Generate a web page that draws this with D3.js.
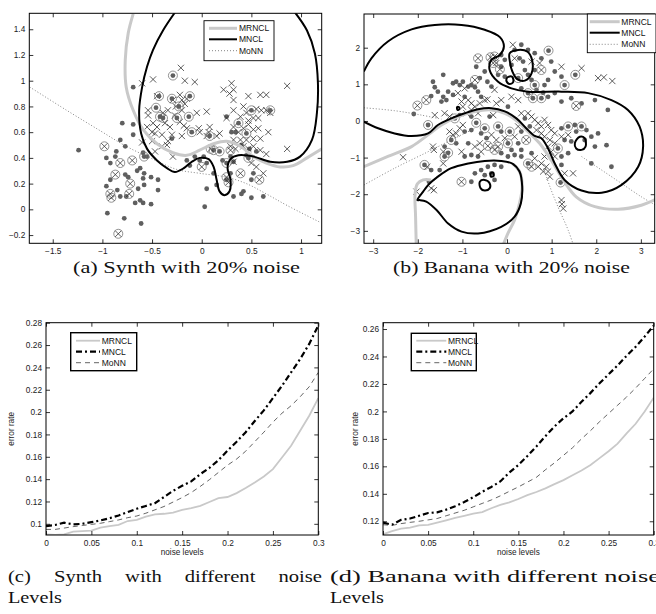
<!DOCTYPE html>
<html>
<head>
<meta charset="utf-8">
<script src="https://cdn.jsdelivr.net/npm/d3@7"></script>
<style>
  body { margin: 0; background: #fff; }
  svg { display: block; }
</style>
</head>
<body>
<div id="fig"></div>
<script>
// ---- (a) Synth with 20% noise: points [x, y]
const synthDots = [
  [-1.24,0.46],[-0.82,0.54],[-0.80,0.67],[-0.69,0.66],[-0.69,0.58],[-0.86,0.45],[-0.87,0.41],[-0.77,0.49],
  [-0.92,0.36],[-0.96,0.40],[-0.59,0.44],[-0.55,0.41],[-0.92,0.23],[-0.96,0.18],[-0.77,0.27],[-0.74,0.25],
  [-0.65,0.30],[-0.62,0.32],[-0.58,0.28],[-0.59,0.24],[-0.51,0.25],[-0.58,0.19],[-0.64,0.16],[-0.85,0.15],
  [-0.82,0.10],[-0.76,0.10],[-0.67,0.05],[-0.62,0.07],[-0.59,0.05],[-0.51,0.04],[-0.44,0.15],[-0.44,0.23],
  [-0.95,-0.03],[-0.78,-0.07],[-0.61,-0.11],[0.03,0.02],[-0.69,0.95],
  [0.02,0.41],[-0.02,0.38],[0.05,0.36],[0.12,0.28],[0.05,0.16],[0.15,0.19],[0.21,0.38],[0.29,0.41],
  [0.32,0.10],[0.40,0.12],[0.42,0.14],[0.50,0.09],[0.62,0.10],[0.50,0.23],[0.52,0.28],[0.25,0.23],
  [0.29,0.28],[0.32,0.37],[-0.12,0.34],[-0.07,0.41],[-0.15,0.38],[0.25,0.72],[0.30,0.60],[0.34,0.60],
  [-0.30,0.55],[0.45,0.42],[0.40,0.50],[0.48,0.47],[0.55,0.45]
];
const synthCrosses = [
  [-0.60,0.98],[-0.49,1.01],[-0.21,1.10],[-0.17,1.00],[-0.07,0.99],[-0.45,0.88],[-0.22,0.89],[-0.20,0.85],
  [-0.15,0.86],[-0.29,0.85],[-0.54,0.77],[-0.39,0.75],[-0.34,0.77],[-0.26,0.80],[-0.17,0.82],[-0.20,0.77],
  [-0.54,0.73],[-0.27,0.73],[-0.05,0.75],[0.05,0.76],[-0.55,0.64],[-0.49,0.67],[-0.45,0.64],[-0.37,0.67],
  [-0.32,0.64],[-0.22,0.68],[-0.18,0.65],[-0.15,0.63],[-0.03,0.63],[-0.50,0.60],[-0.47,0.59],[-0.40,0.58],
  [-0.30,0.58],[-0.20,0.57],[-0.02,0.60],[0.08,0.64],[0.07,0.60],[0.05,0.57],[-0.50,0.53],[-0.35,0.50],
  [-0.34,0.53],[-0.47,0.45],[-0.40,0.49],[-0.29,0.41],[-0.60,0.52],
  [0.22,0.93],[0.30,0.98],[0.32,0.93],[0.32,0.85],[0.28,0.90],[0.32,0.77],[0.42,0.80],[0.47,0.88],
  [0.59,0.89],[0.65,0.89],[0.86,0.96],[0.45,0.75],[0.55,0.78],[0.60,0.77],[0.65,0.77],[0.69,0.75],
  [0.39,0.72],[0.47,0.69],[0.52,0.71],[0.57,0.71],[0.25,0.71],[0.32,0.64],[0.37,0.60],[0.42,0.63],
  [0.47,0.66],[0.52,0.62],[0.57,0.63],[0.67,0.60],[0.32,0.54],[0.39,0.54],[0.45,0.54],[0.52,0.55],
  [0.59,0.55],[0.42,0.49],[0.47,0.47],[0.52,0.49],[0.59,0.46],[0.65,0.43],[0.86,0.47],[0.29,0.49],
  [0.34,0.47],[0.15,0.57],[0.18,0.59],[0.50,0.36],[0.62,0.28],[0.55,0.33],[0.32,0.37]
];
const synthRingDots = [
  [-0.29,1.04],[-0.43,0.88],[-0.12,0.88],[-0.30,0.86],[-0.23,0.80],[-0.46,0.79],[-0.42,0.72],[-0.39,0.71],
  [-0.25,0.71],[-0.13,0.72],[-0.10,0.60],[0.08,0.57],[0.50,0.77],[0.69,0.77],[0.37,0.67],[0.45,0.59],
  [0.12,0.46],[-0.58,0.41],[0.18,0.45],[0.25,0.36],[0.47,0.40]
];
const synthRingCrosses = [
  [-0.98,0.49],[-0.70,0.38],[-0.82,0.36],[-0.87,0.27],[-0.72,0.20],[-0.92,0.12],[-0.91,0.09],[-0.73,0.12],
  [-0.84,-0.19],[0.39,0.28],[0.58,0.23],[0.25,0.25],[0.27,0.21],[0.29,0.46],[0.00,0.33],[0.09,0.47]
];
// decision boundaries (a)
const synthMRNCL = [
  [-0.69,1.52],[-0.74,1.37],[-0.77,1.16],[-0.76,0.95],[-0.69,0.77],[-0.59,0.62],[-0.45,0.51],[-0.29,0.44],
  [-0.15,0.42],[-0.02,0.46],[0.12,0.51],[0.25,0.53],[0.39,0.49],[0.52,0.41],[0.65,0.36],[0.79,0.33],
  [0.92,0.34],[1.06,0.40],[1.21,0.47]
];
const synthMNCL = [
  [-0.27,1.53],[-0.39,1.39],[-0.49,1.24],[-0.55,1.11],[-0.60,0.95],[-0.63,0.77],[-0.61,0.59],[-0.55,0.47],
  [-0.45,0.38],[-0.35,0.32],[-0.27,0.29],[-0.18,0.32],[-0.10,0.37],[-0.02,0.40],[0.07,0.39],[0.12,0.33],
  [0.15,0.23],[0.18,0.14],[0.23,0.11],[0.28,0.14],[0.29,0.23],[0.26,0.32],[0.29,0.39],[0.37,0.42],
  [0.52,0.41],[0.69,0.37],[0.86,0.37],[0.99,0.41],[1.11,0.54],[1.16,0.75],[1.17,0.98],[1.14,1.21],
  [1.06,1.39],[0.94,1.53]
];
const synthMoNN = [
  [-1.73,0.95],[-1.36,0.77],[-1.02,0.61],[-0.76,0.49],[-0.49,0.39],[-0.25,0.31],[-0.02,0.28],[0.25,0.25],
  [0.45,0.20],[0.65,0.12],[0.86,0.03],[1.19,-0.10]
];

// ---- (b) Banana with 20% noise
const bananaDots = [
  [0.32,2.08],[0.47,1.94],[0.62,1.85],[0.77,1.71],[0.99,1.62],[1.07,1.35],[1.22,1.21],[0.92,1.12],[0.84,0.98],
  [0.36,1.62],[0.28,1.71],[0.40,1.39],[0.10,1.53],[-0.05,1.67],[-0.13,1.80],[-0.05,1.21],[-0.20,1.26],
  [-0.13,1.48],[-0.69,1.48],[-0.61,1.17],[-0.50,1.35],[-0.44,1.07],[-0.35,0.94],[-0.58,0.66],[-0.65,0.80],
  [0.47,1.26],[0.55,1.12],[0.66,0.85],[0.81,0.77],[0.32,0.89],[0.92,0.66],[1.07,0.76],[1.22,0.53],[1.44,0.62],
  [1.67,0.48],[1.97,0.57],[2.26,0.30],[0.02,0.39],[0.62,1.39],[0.17,1.94],
  [-1.66,1.07],[-1.62,0.92],[-1.43,1.26],[-1.55,0.80],[-1.43,0.66],[-1.36,0.57],[-1.47,0.53],[-1.70,0.68],
  [-2.09,0.19],[-1.21,1.03],[-1.14,1.07],[-1.06,0.98],[-0.99,1.07],[-0.87,0.94],[-0.80,0.98],[-0.72,0.92],
  [-1.32,0.80],[-1.21,0.71],[-0.95,0.66],[-1.06,0.16],[-0.80,0.12],[-0.95,-0.29],[-1.14,-0.61],[-1.40,-0.70],
  [-0.80,-0.25],[-0.58,-0.34],[-0.39,0.12],[-0.13,-0.29],[-0.46,-0.47],[0.32,-0.29],[-0.87,-0.61],
  [-0.95,-0.97],[-0.80,-0.93],[-0.65,-0.97],
  [-1.70,-1.34],[-1.51,-1.34],[-1.75,-1.66],[-0.80,-1.66],[-0.72,-1.43],[-0.58,-1.34],[-0.43,-1.25],
  [-0.28,-1.20],[-0.13,-1.25],[-0.35,-1.43],[-0.28,-1.61],[-0.50,-1.48],
  [0.40,0.07],[0.51,-0.15],[1.29,-0.52],[1.22,-0.20],[1.52,-0.11],[1.55,-0.29],[1.78,-0.25],[1.44,-0.56],
  [1.74,-0.52],[1.89,-0.43],[2.04,-0.34],[1.97,-0.70],[2.23,-0.66],[1.89,-1.16],[2.34,-1.25],[0.55,-0.88],
  [0.32,-0.97],[0.17,-0.93],[0.02,-0.97],[0.10,-0.79],[-0.13,-0.88],[0.25,-0.61],[0.32,-0.79],[1.22,-0.97],
  [1.37,-0.88],[1.22,-1.20]
];
const bananaCrosses = [
  [0.13,2.08],[0.73,1.58],[1.22,1.48],[1.67,1.44],[-0.24,1.58],[-0.28,0.85],[-0.44,0.59],[2.04,1.17],
  [2.17,1.19],[2.36,1.09],[0.10,0.66],[0.25,0.57],[-0.13,0.57],[-0.24,0.48],[0.17,1.71],[0.55,1.62],
  [-0.95,0.89],[-1.10,0.76],[-0.87,0.57],[-0.80,0.48],[-1.02,0.53],[-0.99,0.39],[-0.72,0.39],[-0.61,0.48],
  [-0.50,0.57],[-1.40,0.21],[-1.29,0.12],[-0.91,0.21],[-0.80,0.30],[-0.65,0.21],[-1.62,0.16],[-1.29,-0.29],
  [-1.21,-0.38],[-1.14,-0.34],[-1.06,-0.20],[-0.99,-0.11],[-0.31,0.16],[-0.35,-0.38],[-0.24,-0.52],
  [0.17,-0.43],[0.25,-0.15],[-0.72,-0.70],[-0.61,-0.61],[-0.58,-0.84],[-1.02,-0.84],[-1.66,-0.70],
  [-1.64,-0.79],[-2.33,-0.99],[-1.43,-0.84],[-1.43,-1.16],[-0.05,-0.47],
  [-1.79,-1.25],[-1.70,-1.84],[-1.64,-1.89],[-2.03,-1.93],
  [0.47,0.21],[0.55,0.12],[0.62,0.03],[0.70,-0.06],[0.77,-0.15],[0.66,-0.25],[0.84,0.03],[0.92,-0.11],
  [0.99,-0.25],[1.07,-0.34],[0.77,-0.34],[0.84,-0.43],[0.96,-0.52],[1.07,-0.61],[1.22,-0.43],[1.37,-0.38],
  [0.92,-0.70],[0.99,-0.84],[1.07,-0.97],[0.84,-0.97],[0.77,-1.16],[0.88,-1.25],[0.92,-1.38],[0.96,-1.52],
  [0.81,-1.38],[0.70,-1.25],[0.62,-1.02],[1.29,-1.43],[1.48,-1.43],[1.22,-2.16],[1.23,-2.27],[1.26,-2.39],
  [0.32,0.21]
];
const bananaRingDots = [
  [0.93,1.92],[1.53,1.26],[1.29,0.98],[0.62,0.98],[0.47,0.76],[0.58,0.62],[0.77,0.62],[0.25,1.17],
  [-1.17,0.07],[-1.77,-0.11],[-1.25,-0.52],[-1.32,-0.87],[-0.69,-0.05],[-0.50,-0.20],[-0.20,-0.15],
  [0.06,-0.29],[-1.40,-0.97],[0.02,-0.61],[-1.85,-1.20],
  [1.14,-0.75],[1.37,-0.15],[1.67,-0.15],[0.47,-1.16],[1.20,-1.68]
];
const bananaRingCrosses = [
  [0.77,1.39],[-0.28,1.76],[-0.31,1.58],[-0.37,1.74],[-0.16,1.41],[-0.65,1.71],[-0.72,1.12],[1.55,0.41],
  [-1.81,0.57],[-2.01,0.42],[-0.20,-0.70],[-0.43,-0.68],[-0.28,-0.79],[-1.02,-1.66],[0.55,-1.25],[0.43,-0.52]
];
// decision boundaries (b): open curves and closed loops
const bananaMNCL = [
  [-3.21,-0.02],[-2.89,-0.20],[-2.52,-0.34],[-2.14,-0.41],[-1.77,-0.34],[-1.55,-0.11],[-1.25,0.07],
  [-0.95,0.21],[-0.65,0.32],[-0.35,0.35],[-0.05,0.26],[0.21,0.07],[0.43,-0.20],[0.62,-0.41],[0.77,-0.47],
  [0.92,-0.75],[1.07,-1.16],[1.29,-1.61],[1.67,-1.90],[2.12,-1.96],[2.56,-1.75],[2.94,-1.25],[3.05,-0.70],
  [2.97,-0.15],[2.71,0.30],[2.34,0.57],[1.82,0.76],[1.22,0.80],[0.47,0.80],[0.10,0.89],[-0.20,1.07],
  [-0.39,1.39],[-0.35,1.67],[-0.16,1.80],[-0.07,2.03],[-0.16,2.29],[-0.50,2.49],[-1.02,2.62],[-1.62,2.62],
  [-2.14,2.50],[-2.67,2.17],[-3.04,1.71],[-3.21,1.35]
];
const bananaLowerLobe = [
  [-2.01,-2.16],[-1.88,-1.93],[-1.77,-1.75],[-1.55,-1.52],[-1.25,-1.29],[-0.87,-1.16],[-0.50,-1.09],
  [-0.13,-1.09],[0.13,-1.17],[0.28,-1.38],[0.34,-1.79],[0.31,-2.25],[0.17,-2.61],[-0.13,-2.89],[-0.65,-3.07],
  [-1.02,-3.02],[-1.32,-2.80],[-1.58,-2.43],[-1.81,-2.20],[-1.96,-2.16]
];
const bananaLoops = [
  [[0.06,1.85],[0.25,1.94],[0.46,1.89],[0.56,1.67],[0.55,1.30],[0.40,1.10],[0.23,1.14],[0.12,1.35],[0.07,1.58]],
  [[0.01,1.19],[0.11,1.21],[0.14,1.07],[0.06,1.01],[-0.01,1.08]],
  [[-0.61,-1.66],[-0.50,-1.61],[-0.39,-1.70],[-0.39,-1.84],[-0.50,-1.90],[-0.59,-1.84]],
  [[-0.37,-1.43],[-0.31,-1.41],[-0.30,-1.50],[-0.36,-1.52]],
  [[1.52,-0.61],[1.63,-0.43],[1.74,-0.47],[1.76,-0.70],[1.67,-0.79],[1.55,-0.75]],
  [[-1.12,0.38],[-1.08,0.38],[-1.07,0.32],[-1.11,0.30]]
];
const bananaMRNCL = [
  [[-3.21,-1.25],[-2.67,-0.97],[-2.14,-0.70],[-1.77,-0.38],[-1.47,-0.11],[-1.10,0.12],[-0.72,0.26],
   [-0.35,0.30],[-0.05,0.21],[0.21,0.01],[0.47,-0.29],[0.73,-0.61],[0.99,-1.07],[1.26,-1.61],[1.55,-2.07],
   [1.97,-2.34],[2.49,-2.41],[3.01,-2.30],[3.33,-2.14]],
  [[-2.03,-3.62],[-2.05,-2.61],[-2.06,-1.98],[-2.01,-1.72],[-1.88,-1.61],[-1.70,-1.61]],
  [[-0.16,-3.62],[0.02,-3.07],[0.17,-2.70],[0.28,-2.25],[0.34,-1.79],[0.28,-1.38],[0.13,-1.17]]
];
const bananaMoNN = [
  [[-3.21,0.36],[-2.52,0.28],[-1.92,0.16],[-1.47,0.05]],
  [[-3.21,-1.75],[-2.52,-1.29],[-1.77,-0.84],[-1.17,-0.47],[-0.72,-0.20]],
  [[1.55,-3.62],[1.37,-2.98],[1.14,-2.34],[0.96,-1.79],[0.81,-1.25]],
  [[1.67,-0.97],[2.12,-1.34],[2.56,-1.70],[3.01,-2.07],[3.33,-2.30]]
];

// ---- (c), (d) error rate vs noise level
const noiseLevels = [0,0.01,0.02,0.03,0.04,0.05,0.06,0.07,0.08,0.09,0.1,0.11,0.12,0.13,0.14,0.15,
  0.16,0.17,0.18,0.19,0.2,0.21,0.22,0.23,0.24,0.25,0.26,0.27,0.28,0.29,0.3];
const synthErrMRNCL = [0.0905,0.0902,0.0905,0.093,0.0935,0.094,0.0965,0.098,0.099,0.1025,0.1035,0.1065,
  0.1085,0.109,0.110,0.1125,0.114,0.116,0.1195,0.123,0.124,0.1275,0.132,0.137,0.1424,0.149,0.1594,0.1699,
  0.1833,0.1967,0.2125];
const synthErrMNCL = [0.098,0.099,0.101,0.0995,0.1,0.1015,0.103,0.105,0.1075,0.1105,0.1135,0.116,0.1185,
  0.124,0.1295,0.134,0.138,0.1445,0.150,0.157,0.1655,0.1735,0.182,0.192,0.2015,0.2125,0.2235,0.2355,
  0.2475,0.261,0.2775];
const synthErrMoNN = [0.095,0.095,0.0962,0.0975,0.0985,0.0995,0.1005,0.102,0.1035,0.1055,0.107,0.1095,
  0.1125,0.1155,0.1195,0.1235,0.128,0.1335,0.1395,0.146,0.1525,0.158,0.165,0.1735,0.182,0.191,0.199,
  0.2057,0.2137,0.2227,0.2355];
const bananaErrMRNCL = [0.1105,0.1128,0.1147,0.1153,0.117,0.1174,0.119,0.1207,0.1225,0.124,0.1255,0.1267,
  0.1295,0.132,0.1337,0.1362,0.139,0.1413,0.144,0.147,0.150,0.1535,0.157,0.161,0.166,0.171,0.1765,0.184,
  0.191,0.2,0.21];
const bananaErrMNCL = [0.119,0.1175,0.121,0.122,0.124,0.126,0.1265,0.1285,0.131,0.134,0.1375,0.1415,0.145,
  0.149,0.1555,0.161,0.1675,0.1745,0.182,0.189,0.195,0.2,0.207,0.2135,0.2205,0.227,0.2335,0.2405,0.247,
  0.2545,0.2625];
const bananaErrMoNN = [0.1175,0.117,0.1183,0.1192,0.12,0.121,0.122,0.124,0.126,0.128,0.1305,0.133,0.1355,
  0.1385,0.1418,0.145,0.1485,0.152,0.1575,0.1625,0.168,0.1735,0.18,0.186,0.1925,0.1985,0.2045,0.2105,
  0.217,0.224,0.231];

// ---- ticks and labels
const synthXTicks = [-1.5,-1,-0.5,0,0.5,1];
const synthYTicks = [-0.2,0,0.2,0.4,0.6,0.8,1,1.2,1.4];
const bananaXTicks = [-3,-2,-1,0,1,2,3];
const bananaYTicks = [-3,-2,-1,0,1,2];
const noiseTicks = [0,0.05,0.1,0.15,0.2,0.25,0.3];
const synthErrTicks = [0.1,0.12,0.14,0.16,0.18,0.2,0.22,0.24,0.26,0.28];
const bananaErrTicks = [0.12,0.14,0.16,0.18,0.2,0.22,0.24,0.26];
const methods = ['MRNCL','MNCL','MoNN'];
const captions = ['(a) Synth with 20% noise','(b) Banana with 20% noise',
  '(c) Synth with different noise','(d) Banana with different noise','Levels'];

const W = 656, H = 614;
const sans = '"Liberation Sans", Arial, Helvetica, sans-serif';
const serif = '"Liberation Serif", "Times New Roman", serif';
const svg = d3.select('#fig').append('svg').attr('width', W).attr('height', H);

const fmt = d => String(d).replace('-', '\u2212');

function makePanel(cfg) {
  const x = d3.scaleLinear().domain(cfg.xDomain).range([cfg.left, cfg.right]);
  const y = d3.scaleLinear().domain(cfg.yDomain).range([cfg.bottom, cfg.top]);
  const g = svg.append('g');
  const id = 'clip-' + cfg.name;
  svg.append('clipPath').attr('id', id).append('rect')
    .attr('x', cfg.left).attr('y', cfg.top)
    .attr('width', cfg.right - cfg.left).attr('height', cfg.bottom - cfg.top);
  const plot = g.append('g').attr('clip-path', `url(#${id})`);
  return { cfg, x, y, g, plot };
}

function drawAxes(p) {
  const { cfg, x, y, g } = p;
  const style = a => {
    a.select('.domain').remove();
    a.attr('font-family', sans).attr('font-size', 8.3);
    a.selectAll('.tick line').attr('stroke', '#000').attr('stroke-width', 0.8);
    a.selectAll('.tick text').attr('fill', '#222');
  };
  g.append('g').attr('transform', `translate(0,${cfg.bottom})`)
    .call(d3.axisBottom(x).tickValues(cfg.xTicks).tickSize(-4).tickPadding(5).tickFormat(fmt)).call(style);
  g.append('g').attr('transform', `translate(0,${cfg.top})`)
    .call(d3.axisTop(x).tickValues(cfg.xTicks).tickSize(-4).tickFormat('')).call(style);
  g.append('g').attr('transform', `translate(${cfg.left},0)`)
    .call(d3.axisLeft(y).tickValues(cfg.yTicks).tickSize(-4).tickPadding(4).tickFormat(fmt)).call(style);
  g.append('g').attr('transform', `translate(${cfg.right},0)`)
    .call(d3.axisRight(y).tickValues(cfg.yTicks).tickSize(-4).tickFormat('')).call(style);
  g.append('rect')
    .attr('x', cfg.left).attr('y', cfg.top)
    .attr('width', cfg.right - cfg.left).attr('height', cfg.bottom - cfg.top)
    .attr('fill', 'none').attr('stroke', '#000').attr('stroke-width', 1);
}

function drawMarks(p, pts, ringed, dot) {
  const { x, y, plot } = p;
  if (ringed) {
    plot.append('g').selectAll('circle').data(pts).join('circle')
      .attr('cx', d => x(d[0])).attr('cy', d => y(d[1])).attr('r', 4.5)
      .attr('fill', 'none').attr('stroke', '#777').attr('stroke-width', 0.8);
  }
  if (dot) {
    plot.append('g').selectAll('circle').data(pts).join('circle')
      .attr('cx', d => x(d[0])).attr('cy', d => y(d[1])).attr('r', 2.4)
      .attr('fill', '#5f5f5f');
  } else {
    const s = 3.1;
    plot.append('g').selectAll('path').data(pts).join('path')
      .attr('d', d => {
        const cx = x(d[0]), cy = y(d[1]);
        return `M${cx - s},${cy - s}L${cx + s},${cy + s}M${cx - s},${cy + s}L${cx + s},${cy - s}`;
      })
      .attr('stroke', '#333').attr('stroke-width', 0.8).attr('fill', 'none');
  }
}

const lineStyles = {
  MRNCL: { stroke: '#c9c9c9', width: 3, dash: null },
  MNCL: { stroke: '#000', width: 2, dash: null },
  MoNN: { stroke: '#777', width: 0.9, dash: '1,2' }
};
const errStyles = {
  MRNCL: { stroke: '#c9c9c9', width: 1.8, dash: null },
  MNCL: { stroke: '#000', width: 2.2, dash: '6,3,2,3' },
  MoNN: { stroke: '#222', width: 0.7, dash: '5,4' }
};

function drawCurve(p, pts, st, closed) {
  const line = d3.line().x(d => p.x(d[0])).y(d => p.y(d[1]))
    .curve(closed ? d3.curveCatmullRomClosed : d3.curveCatmullRom);
  p.plot.append('path').attr('d', line(pts)).attr('fill', 'none')
    .attr('stroke', st.stroke).attr('stroke-width', st.width)
    .attr('stroke-dasharray', st.dash).attr('stroke-linejoin', 'round');
}

function drawLegend(box, styles, thick) {
  svg.append('rect').attr('x', box.x).attr('y', box.y).attr('width', box.w).attr('height', box.h)
    .attr('fill', '#fff').attr('stroke', '#000').attr('stroke-width', thick ? 1.4 : 0.9);
  methods.forEach((m, i) => {
    const yy = box.rows[i];
    const st = styles[m];
    svg.append('line').attr('x1', box.l1).attr('x2', box.l2).attr('y1', yy).attr('y2', yy)
      .attr('stroke', st.stroke).attr('stroke-width', st.width).attr('stroke-dasharray', st.dash);
    svg.append('text').attr('x', box.tx).attr('y', yy + 3).attr('font-family', sans)
      .attr('font-size', 8.5).attr('fill', '#111').text(m);
  });
}

// ---- panel (a)
const pa = makePanel({ name: 'a', left: 29.3, right: 321.7, top: 13.3, bottom: 243.3,
  xDomain: [-1.736, 1.208], yDomain: [-0.264, 1.524], xTicks: synthXTicks, yTicks: synthYTicks });
drawMarks(pa, synthDots, false, true);
drawMarks(pa, synthCrosses, false, false);
drawMarks(pa, synthRingDots, true, true);
drawMarks(pa, synthRingCrosses, true, false);
drawCurve(pa, synthMoNN, lineStyles.MoNN);
drawCurve(pa, synthMRNCL, lineStyles.MRNCL);
drawCurve(pa, synthMNCL, lineStyles.MNCL);
drawAxes(pa);
drawLegend({ x: 204, y: 20.7, w: 70, h: 40, rows: [28.3, 39.3, 50.7], l1: 209, l2: 237, tx: 239 }, lineStyles);

// ---- panel (b)
const pb = makePanel({ name: 'b', left: 364, right: 654.7, top: 14, bottom: 243.3,
  xDomain: [-3.206, 3.31], yDomain: [-3.34, 2.92], xTicks: bananaXTicks, yTicks: bananaYTicks });
drawMarks(pb, bananaDots, false, true);
drawMarks(pb, bananaCrosses, false, false);
drawMarks(pb, bananaRingDots, true, true);
drawMarks(pb, bananaRingCrosses, true, false);
bananaMoNN.forEach(c => drawCurve(pb, c, lineStyles.MoNN));
bananaMRNCL.forEach(c => drawCurve(pb, c, lineStyles.MRNCL));
drawCurve(pb, bananaMNCL, lineStyles.MNCL);
drawCurve(pb, bananaLowerLobe, lineStyles.MNCL, true);
bananaLoops.forEach(c => drawCurve(pb, c, lineStyles.MNCL, true));
drawAxes(pb);
drawLegend({ x: 587.3, y: 14, w: 68.7, h: 38.7, rows: [21.7, 32.7, 44.3], l1: 589.7, l2: 619.7, tx: 621.3 }, lineStyles);

// ---- panels (c), (d)
function errPanel(cfg, series, legendBox) {
  const p = makePanel(cfg);
  const line = d3.line().x((d, i) => p.x(noiseLevels[i])).y(d => p.y(d));
  methods.forEach(m => {
    const st = errStyles[m];
    p.plot.append('path').attr('d', line(series[m])).attr('fill', 'none')
      .attr('stroke', st.stroke).attr('stroke-width', st.width).attr('stroke-dasharray', st.dash);
  });
  drawAxes(p);
  p.g.append('text').attr('x', (cfg.left + cfg.right) / 2).attr('y', cfg.bottom + 20)
    .attr('text-anchor', 'middle').attr('font-family', sans).attr('font-size', 8.2).attr('fill', '#222')
    .text('noise levels');
  p.g.append('text').attr('transform', `translate(${cfg.ylabX},${(cfg.top + cfg.bottom) / 2}) rotate(-90)`)
    .attr('text-anchor', 'middle').attr('font-family', sans).attr('font-size', 8.2).attr('fill', '#222')
    .text('error rate');
  drawLegend(legendBox, errStyles, true);
}

errPanel({ name: 'c', left: 46, right: 318.3, top: 322.7, bottom: 535, ylabX: 14,
  xDomain: [0, 0.3], yDomain: [0.09, 0.28], xTicks: noiseTicks, yTicks: synthErrTicks },
  { MRNCL: synthErrMRNCL, MNCL: synthErrMNCL, MoNN: synthErrMoNN },
  { x: 70.7, y: 332.7, w: 66, h: 38, rows: [340.7, 351.7, 362.7], l1: 76, l2: 100, tx: 101.7 });

errPanel({ name: 'd', left: 383, right: 653.7, top: 322.7, bottom: 535, ylabX: 357.5,
  xDomain: [0, 0.3], yDomain: [0.11, 0.2646], xTicks: noiseTicks, yTicks: bananaErrTicks },
  { MRNCL: bananaErrMRNCL, MNCL: bananaErrMNCL, MoNN: bananaErrMoNN },
  { x: 411.3, y: 333.3, w: 65, h: 37.4, rows: [340.7, 351.7, 362.7], l1: 416.3, l2: 446.3, tx: 448 });

// ---- captions
function caption(str, x0, y0, width) {
  svg.append('text').attr('x', x0).attr('y', y0).attr('font-family', serif).attr('font-size', 16.5)
    .attr('fill', '#111').attr('textLength', width).attr('lengthAdjust', 'spacingAndGlyphs').text(str);
}
function justified(str, x0, y0, width, stretch) {
  const words = str.split(' ');
  const nodes = words.map(w => svg.append('text').attr('y', y0).attr('font-family', serif)
    .attr('font-size', 16.5).attr('fill', '#111').text(w));
  const widths = nodes.map(n => n.node().getComputedTextLength() * stretch);
  const gap = (width - d3.sum(widths)) / (words.length - 1);
  let cx = x0;
  nodes.forEach((n, i) => {
    n.attr('x', cx).attr('textLength', widths[i]).attr('lengthAdjust', 'spacingAndGlyphs');
    cx += widths[i] + gap;
  });
}
caption(captions[0], 73, 273, 227);
caption(captions[1], 393, 273, 237);
justified(captions[2], 8, 582, 314, 1.25);
caption(captions[3], 330, 582, 330);
caption(captions[4], 8, 603, 54);
caption(captions[4], 330, 603, 54);
</script>
</body>
</html>
